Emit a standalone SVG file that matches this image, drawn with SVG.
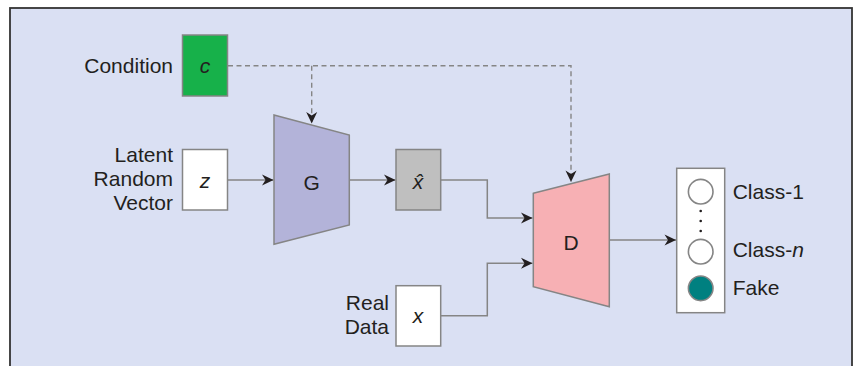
<svg xmlns="http://www.w3.org/2000/svg" width="862" height="366" viewBox="0 0 862 366">
<style>
  text { font-family: "Liberation Sans", Arial, sans-serif; font-size: 21px; fill: #231f20; }
  .it { font-style: italic; }
  .mid { text-anchor: middle; }
  .end { text-anchor: end; }
  .box { stroke: #858585; stroke-width: 1.5; }
  .conn { fill: none; stroke: #858585; stroke-width: 1.5; }
  .dash { fill: none; stroke: #858585; stroke-width: 1.4; stroke-dasharray: 5 3.5; }
  .circ { fill: #ffffff; stroke: #858585; stroke-width: 1.6; }
</style>
<defs>
  <marker id="arr" markerUnits="userSpaceOnUse" markerWidth="14" markerHeight="12" viewBox="-12 -6 14 12" refX="0" refY="0" orient="auto">
    <path d="M0,0 L-11.5,-5.5 L-8,0 L-11.5,5.5 Z" fill="#231f20"/>
  </marker>
</defs>
<rect x="0" y="0" width="862" height="366" fill="#ffffff"/>
<rect id="frame" x="10" y="8" width="842" height="370" fill="#dae0f3" stroke="#333333" stroke-width="1.8"/>

<g id="connectors">
  <path class="dash" d="M228,65.7 H571 V182" marker-end="url(#arr)"/>
  <path class="dash" d="M311.7,65.7 V123.5" marker-end="url(#arr)"/>
  <path class="conn" d="M227,180 H273.5" marker-end="url(#arr)"/>
  <path class="conn" d="M349.5,180 H395.5" marker-end="url(#arr)"/>
  <path class="conn" d="M441,180 H487.3 V218 H532.5" marker-end="url(#arr)"/>
  <path class="conn" d="M441,315.7 H487.3 V263.3 H532.5" marker-end="url(#arr)"/>
  <path class="conn" d="M609.5,240 H676" marker-end="url(#arr)"/>
</g>

<g id="condition">
  <text class="end" x="173" y="73">Condition</text>
  <rect class="box" x="182.5" y="35" width="45" height="61" fill="#17b14a"/>
  <text class="it mid" x="205" y="73">c</text>
</g>

<g id="latent">
  <text class="end" x="173" y="162">Latent</text>
  <text class="end" x="173" y="186">Random</text>
  <text class="end" x="173" y="210">Vector</text>
  <rect class="box" x="182.5" y="149.5" width="45" height="60.5" fill="#ffffff"/>
  <text class="it mid" x="205" y="188">z</text>
</g>

<g id="generator">
  <polygon class="box" points="274,115 349.3,135 349.3,225 274,244.3" fill="#b3b3d9"/>
  <text class="mid" x="311.7" y="190">G</text>
</g>

<g id="fake-sample">
  <rect class="box" x="396" y="149.5" width="44.7" height="60.5" fill="#bfbfbf"/>
  <text class="it mid" x="418" y="189">x̂</text>
</g>

<g id="real-data">
  <text class="end" x="389" y="310">Real</text>
  <text class="end" x="389" y="334">Data</text>
  <rect class="box" x="396" y="285.7" width="44.7" height="60.3" fill="#ffffff"/>
  <text class="it mid" x="418" y="323">x</text>
</g>

<g id="discriminator">
  <polygon class="box" points="533.3,193.3 609.3,174 609.3,306.7 533.3,286.7" fill="#f7b0b4"/>
  <text class="mid" x="571" y="250">D</text>
</g>

<g id="output">
  <rect class="box" x="676.7" y="168.3" width="48" height="144.4" fill="#ffffff"/>
  <circle class="circ" cx="700.7" cy="191.7" r="12.3"/>
  <circle cx="700.7" cy="211" r="1.3" fill="#231f20"/>
  <circle cx="700.7" cy="221" r="1.3" fill="#231f20"/>
  <circle cx="700.7" cy="231" r="1.3" fill="#231f20"/>
  <circle class="circ" cx="700.7" cy="251.7" r="12.3"/>
  <circle class="circ" cx="700.7" cy="288.3" r="12.3" style="fill:#008080"/>
  <text x="732.7" y="198.5">Class-1</text>
  <text x="732.7" y="257">Class-<tspan class="it">n</tspan></text>
  <text x="732.7" y="294.5">Fake</text>
</g>
</svg>
